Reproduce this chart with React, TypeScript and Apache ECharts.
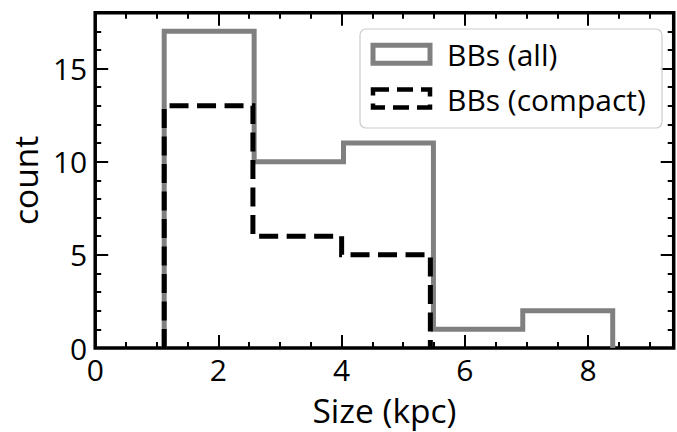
import React, { useEffect, useRef } from "react";
import * as echarts from "echarts";

const seriesNames = ["BBs (all)", "BBs (compact)"];
const allEdges = [1.12, 2.58, 4.03, 5.49, 6.94, 8.4];
const allCounts = [17, 10, 11, 1, 2];
const compactEdges = [1.12, 2.56, 4.0, 5.44];
const compactCounts = [13, 6, 5];
const xTickLabels = [0, 2, 4, 6, 8];
const yTickLabels = [0, 5, 10, 15];
const xTitle = "Size (kpc)";
const yTitle = "count";

const FONT = "Open Sans";

function stepPoints(edges: number[], counts: number[]): number[][] {
  const pts: number[][] = [[edges[0], 0]];
  counts.forEach((c, i) => {
    pts.push([edges[i], c]);
    pts.push([edges[i + 1], c]);
  });
  pts.push([edges[edges.length - 1], 0]);
  return pts;
}

export default function App() {
  const ref = useRef<HTMLDivElement>(null);
  useEffect(() => {
    if (!ref.current) return;
    const chart = echarts.init(ref.current, undefined, { renderer: "svg" });
    const XMAX = 9.39;
    const YMAX = 18;
    const tickStyle = { color: "#000", width: 2 };
    const mkX = (pos: string, interval: number, len: number, labels: boolean, name?: string) => ({
      type: "value",
      gridIndex: 0,
      position: pos,
      min: 0,
      max: XMAX,
      interval,
      axisLine: { show: false, onZero: false },
      axisTick: { show: true, inside: true, length: len, lineStyle: tickStyle },
      splitLine: { show: false },
      axisLabel: labels
        ? {
            show: true,
            margin: 6,
            fontSize: 30,
            lineHeight: 30,
            fontFamily: FONT,
            color: "#000",
            showMaxLabel: false,
            formatter: (v: number) => (xTickLabels.includes(v) ? String(v) : ""),
          }
        : { show: false },
      name: name || "",
      nameLocation: "middle",
      nameGap: 45,
      nameTextStyle: { fontSize: 33.5, lineHeight: 34, fontFamily: FONT, color: "#000" },
    });
    const mkY = (pos: string, interval: number, len: number, labels: boolean, name?: string) => ({
      type: "value",
      gridIndex: 0,
      position: pos,
      min: 0,
      max: YMAX,
      interval,
      axisLine: { show: false, onZero: false },
      axisTick: { show: true, inside: true, length: len, lineStyle: tickStyle },
      splitLine: { show: false },
      axisLabel: labels
        ? {
            show: true,
            margin: 8,
            fontSize: 30,
            fontFamily: FONT,
            color: "#000",
            showMaxLabel: false,
            formatter: (v: number) => (yTickLabels.includes(v) ? String(v) : ""),
          }
        : { show: false },
      name: name || "",
      nameLocation: "middle",
      nameGap: 52,
      nameRotate: 90,
      nameTextStyle: { fontSize: 33.5, fontFamily: FONT, color: "#000" },
    });

    chart.setOption({
      animation: false,
      grid: {
        left: 88,
        right: 3.3,
        top: 12.7,
        bottom: 77.3,
        show: true,
        borderColor: "#000",
        borderWidth: 3.5,
        backgroundColor: "transparent",
        containLabel: false,
      },
      xAxis: [
        mkX("bottom", 2, 13, true, xTitle),
        mkX("bottom", 0.5, 6, false),
        mkX("top", 2, 13, false),
        mkX("top", 0.5, 6, false),
      ],
      yAxis: [
        mkY("left", 5, 13, true, yTitle),
        mkY("left", 1, 6, false),
        mkY("right", 5, 13, false),
        mkY("right", 1, 6, false),
      ],
      series: [
        {
          name: seriesNames[0],
          type: "line",
          xAxisIndex: 0,
          yAxisIndex: 0,
          data: stepPoints(allEdges, allCounts),
          showSymbol: false,
          symbol: "none",
          lineStyle: { color: "#808080", width: 5, join: "miter", cap: "butt" },
          z: 3,
        },
        {
          name: seriesNames[1],
          type: "line",
          xAxisIndex: 0,
          yAxisIndex: 0,
          data: stepPoints(compactEdges, compactCounts),
          showSymbol: false,
          symbol: "none",
          lineStyle: { color: "#000", width: 5, type: [19, 8.5], join: "miter", cap: "butt" },
          z: 4,
        },
      ],
      graphic: [
        {
          type: "rect",
          z: 10,
          shape: { x: 360, y: 29, width: 302, height: 99, r: 6 },
          style: { fill: "rgba(255,255,255,0.8)", stroke: "#cccccc", lineWidth: 1.2 },
        },
        {
          type: "rect",
          z: 11,
          shape: { x: 373, y: 45.2, width: 57, height: 18 },
          style: { fill: "none", stroke: "#808080", lineWidth: 5 },
        },
        {
          type: "rect",
          z: 11,
          shape: { x: 373, y: 89.5, width: 57, height: 18 },
          style: { fill: "none", stroke: "#000", lineWidth: 4.5, lineDash: [16, 8] },
        },
        {
          type: "text",
          z: 11,
          x: 447,
          y: 54,
          style: {
            text: seriesNames[0],
            font: `30px "${FONT}"`,
            fill: "#000",
            verticalAlign: "middle",
            align: "left",
          },
        },
        {
          type: "text",
          z: 11,
          x: 447,
          y: 99,
          style: {
            text: seriesNames[1],
            font: `30px "${FONT}"`,
            fill: "#000",
            verticalAlign: "middle",
            align: "left",
          },
        },
      ],
    });
    return () => chart.dispose();
  }, []);
  return <div ref={ref} style={{ width: 677, height: 432, position: "absolute", left: 0, top: 0 }} />;
}
